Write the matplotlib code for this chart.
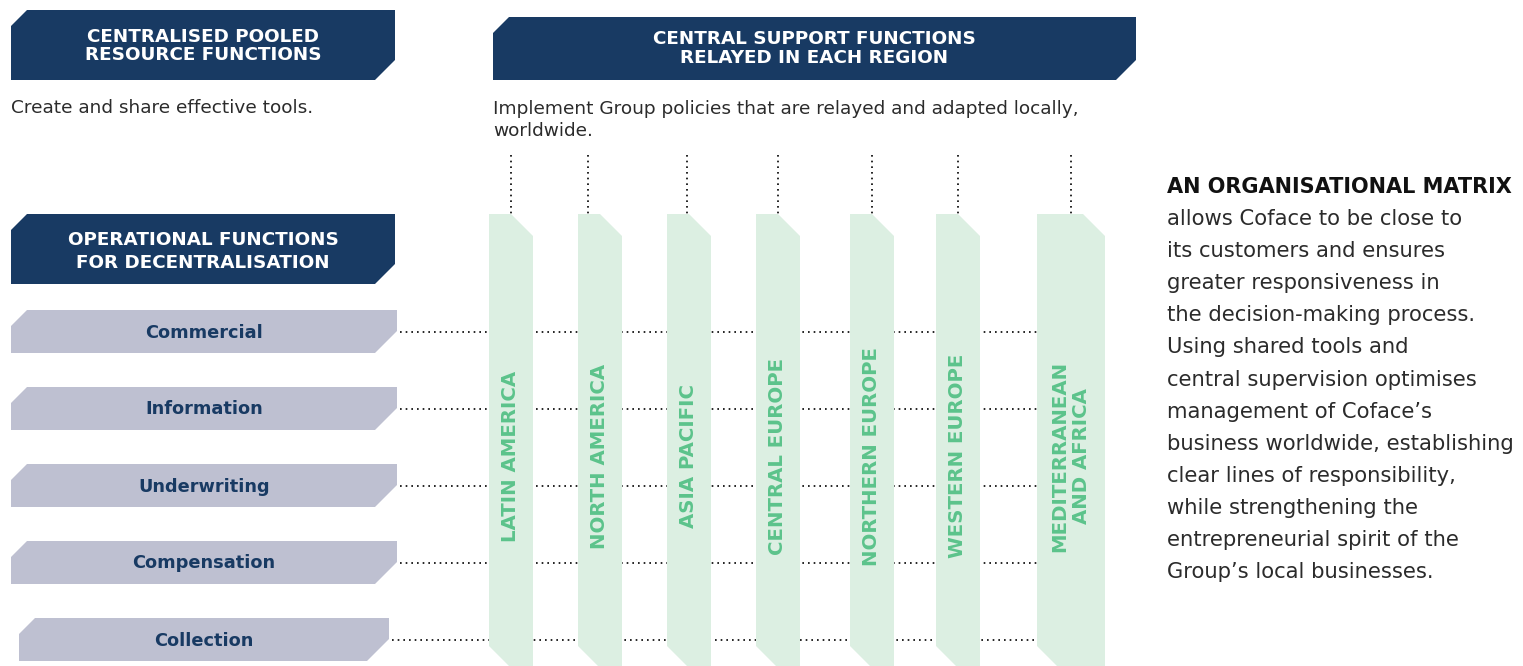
import matplotlib
matplotlib.use("Agg")
import matplotlib.pyplot as plt
from matplotlib.patches import Polygon

# ---- content ----
header_titles = ["CENTRALISED POOLED\nRESOURCE FUNCTIONS",
                 "CENTRAL SUPPORT FUNCTIONS\nRELAYED IN EACH REGION",
                 "OPERATIONAL FUNCTIONS\nFOR DECENTRALISATION"]
header_notes = ["Create and share effective tools.",
                "Implement Group policies that are relayed and adapted locally,\nworldwide."]
row_labels = ["Commercial", "Information", "Underwriting", "Compensation", "Collection"]
region_labels = ["LATIN AMERICA", "NORTH AMERICA", "ASIA PACIFIC", "CENTRAL EUROPE",
                 "NORTHERN EUROPE", "WESTERN EUROPE", "MEDITERRANEAN\nAND AFRICA"]
side_title = "AN ORGANISATIONAL MATRIX"
side_lines = ["allows Coface to be close to",
              "its customers and ensures",
              "greater responsiveness in",
              "the decision-making process.",
              "Using shared tools and",
              "central supervision optimises",
              "management of Coface\u2019s",
              "business worldwide, establishing",
              "clear lines of responsibility,",
              "while strengthening the",
              "entrepreneurial spirit of the",
              "Group\u2019s local businesses."]

# ---- layout (pixel units) ----
header_boxes = [(11, 395, 10, 80), (493, 1136, 17, 80), (11, 395, 214, 284)]
header_text_y = [46, 48.5, 251.5]
header_linesp = [1.05, 1.08, 1.32]
row_boxes = [(11, 397, 310, 353), (11, 397, 387, 430), (11, 397, 464, 507),
             (11, 397, 541, 584), (19, 389, 618, 661)]
col_boxes = [(489, 533), (578, 622), (667, 711), (756, 800),
             (850, 894), (936, 980), (1037, 1105)]
col_dot_x = [511, 588, 687, 778, 872, 958, 1071]
col_top, col_bot = 214, 668

NAVY = "#183a63"
GREY = "#bec0d1"
LGREEN = "#dcefe2"
GREEN = "#5cc38b"
TEXT = "#2b2b2b"
FONT = ["DejaVu Sans"]

W, H = 1523, 666
fig = plt.figure(figsize=(W / 100, H / 100), dpi=100)
ax = fig.add_axes([0, 0, 1, 1])
ax.set_xlim(0, W)
ax.set_ylim(H, 0)
ax.axis("off")


def banner(x0, x1, y0, y1, ctl, cbr, color, z=2):
    pts = [(x0, y0 + ctl), (x0 + ctl, y0), (x1, y0), (x1, y1 - cbr),
           (x1 - cbr, y1), (x0, y1)]
    ax.add_patch(Polygon(pts, closed=True, fc=color, ec="none", zorder=z))


# headers
for (x0, x1, y0, y1), t, ty, ls in zip(header_boxes, header_titles,
                                       header_text_y, header_linesp):
    banner(x0, x1, y0, y1, 16, 20, NAVY)
    ax.text((x0 + x1) / 2, ty, t, color="white", ha="center",
            va="center", fontsize=13.2, fontweight="bold", family=FONT,
            linespacing=ls, zorder=3)

ax.text(11, 108, header_notes[0], color=TEXT, fontsize=13.3, va="center",
        family=FONT)
ax.text(493, 120, header_notes[1], color=TEXT, fontsize=13.3, va="center",
        family=FONT, linespacing=1.35)

# dotted horizontal lines behind columns
for (x0, x1, y0, y1) in row_boxes:
    yc = (y0 + y1) / 2
    ax.plot([x1 + 3, 1037], [yc, yc], color="black", lw=1.2,
            linestyle=(0, (1, 2.4)), zorder=1)

# vertical dotted lines
for x in col_dot_x:
    ax.plot([x, x], [155, col_top], color="black", lw=1.2,
            linestyle=(0, (1, 2.4)), zorder=1)

# rows
for (x0, x1, y0, y1), lab in zip(row_boxes, row_labels):
    banner(x0, x1, y0, y1, 16, 22, GREY)
    ax.text((x0 + x1) / 2, (y0 + y1) / 2 + 1, lab, color=NAVY, ha="center",
            va="center", fontsize=12.8, fontweight="bold", family=FONT, zorder=3)

# columns
for (x0, x1), lab in zip(col_boxes, region_labels):
    c = 22
    pts = [(x0, col_top), (x1 - c, col_top), (x1, col_top + c), (x1, col_bot),
           (x0 + c, col_bot), (x0, col_bot - c)]
    ax.add_patch(Polygon(pts, closed=True, fc=LGREEN, ec="none", zorder=2))
    ax.text((x0 + x1) / 2, 456, lab, color=GREEN, ha="center", va="center",
            rotation=90, fontsize=14.2, fontweight="bold", family=FONT,
            linespacing=1.2, zorder=3)

# side text
ax.text(1167, 187, side_title, color="#111111", fontsize=15, fontweight="bold",
        va="center", family=FONT)
for i, line in enumerate(side_lines):
    ax.text(1167, 219 + i * 32.1, line, color=TEXT, fontsize=15.2, va="center",
            family=FONT)

fig.savefig("out.png", dpi=100)
